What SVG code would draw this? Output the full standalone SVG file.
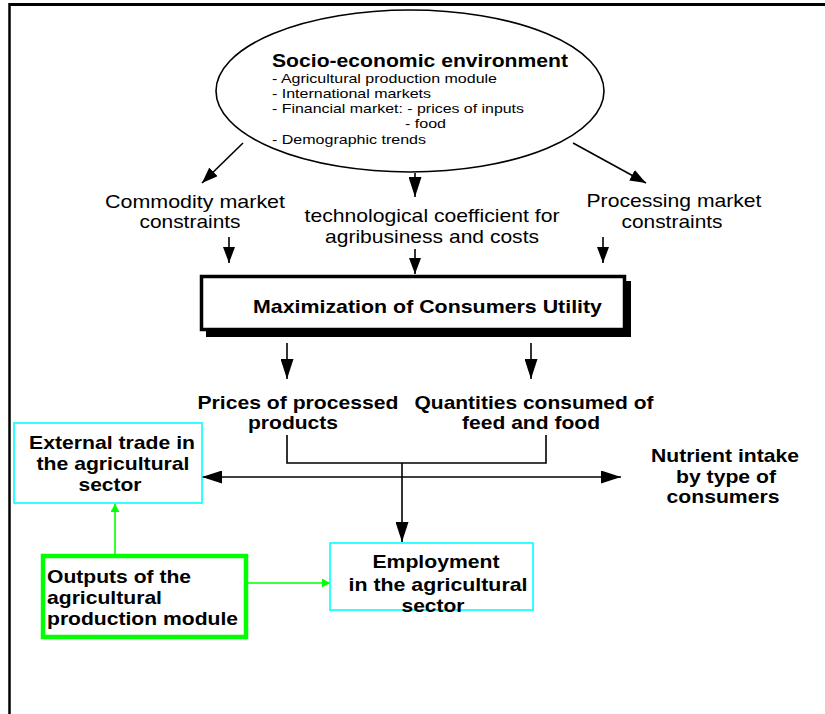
<svg xmlns="http://www.w3.org/2000/svg" width="825" height="714" viewBox="0 0 825 714">
<style>
text{font-family:"Liberation Sans",Arial,Helvetica,sans-serif;fill:#000}
.r{font-size:19px}
.s{font-size:13px}
.b{font-size:19px;font-weight:bold}
.t{font-size:19px;font-weight:bold}
.c{text-anchor:middle}
.k{stroke:#000;stroke-width:1.6;fill:none}
.g{stroke:#00ff00;stroke-width:1.6;fill:none}
.cy{fill:#fff;stroke:#00ffff;stroke-width:1.6}
</style>
<defs>
<marker id="ab" markerUnits="userSpaceOnUse" markerWidth="20" markerHeight="13" refX="20" refY="6.5" orient="auto"><path d="M0,0 L20,6.5 L0,13 z" fill="#000"/></marker>
<marker id="as" markerUnits="userSpaceOnUse" markerWidth="16" markerHeight="12" refX="16" refY="6" orient="auto"><path d="M0,0 L16,6 L0,12 z" fill="#000"/></marker>
<marker id="ag" markerUnits="userSpaceOnUse" markerWidth="8" markerHeight="9" refX="8" refY="4.5" orient="auto"><path d="M0,0 L8,4.5 L0,9 z" fill="#00ff00"/></marker>
</defs>
<rect width="825" height="714" fill="#fff"/>
<g id="frame">
<line x1="9" y1="4.5" x2="825" y2="4.5" stroke="#000" stroke-width="3"/>
<line x1="9.5" y1="3" x2="9.5" y2="714" stroke="#000" stroke-width="2.5"/>
</g>
<g id="connectors">
<line class="k" x1="243" y1="143" x2="202" y2="183" marker-end="url(#as)"/>
<line class="k" x1="573" y1="143" x2="646" y2="183" marker-end="url(#as)"/>
<line class="k" x1="415" y1="173" x2="415" y2="197" marker-end="url(#ab)"/>
<line class="k" x1="229" y1="237" x2="229" y2="263" marker-end="url(#as)"/>
<line class="k" x1="415" y1="249" x2="415" y2="274" marker-end="url(#as)"/>
<line class="k" x1="603" y1="237" x2="603" y2="263" marker-end="url(#as)"/>
<line class="k" x1="287" y1="343" x2="287" y2="379" marker-end="url(#ab)"/>
<line class="k" x1="531" y1="343" x2="531" y2="379" marker-end="url(#ab)"/>
<polyline class="k" points="287,435 287,463 546,463 546,435"/>
<line class="k" x1="402" y1="463" x2="402" y2="542" marker-end="url(#ab)"/>
<line class="k" x1="300" y1="477" x2="202" y2="477" marker-end="url(#ab)"/>
<line class="k" x1="300" y1="477" x2="621" y2="477" marker-end="url(#ab)"/>
<line class="g" x1="115" y1="556" x2="115" y2="504" marker-end="url(#ag)"/>
<line class="g" x1="246" y1="583" x2="330" y2="583" marker-end="url(#ag)"/>
</g>
<g id="socio">
<ellipse cx="410" cy="91" rx="194" ry="81" fill="none" stroke="#000" stroke-width="1.6"/>
<text class="t" x="272" y="67" textLength="296" lengthAdjust="spacingAndGlyphs">Socio-economic environment</text>
<text class="s" x="272" y="83" textLength="225" lengthAdjust="spacingAndGlyphs">- Agricultural production module</text>
<text class="s" x="272" y="98" textLength="159" lengthAdjust="spacingAndGlyphs">- International markets</text>
<text class="s" x="272" y="113" textLength="252" lengthAdjust="spacingAndGlyphs">- Financial market: - prices of inputs</text>
<text class="s" x="405" y="128" textLength="41" lengthAdjust="spacingAndGlyphs">- food</text>
<text class="s" x="272" y="144" textLength="154" lengthAdjust="spacingAndGlyphs">- Demographic trends</text>
</g>
<g id="commodity">
<text class="r c" x="195" y="208" textLength="180" lengthAdjust="spacingAndGlyphs">Commodity market</text>
<text class="r c" x="190" y="228" textLength="101" lengthAdjust="spacingAndGlyphs">constraints</text>
</g>
<g id="techno">
<text class="r c" x="432" y="222" textLength="255" lengthAdjust="spacingAndGlyphs">technological coefficient for</text>
<text class="r c" x="432" y="243" textLength="214" lengthAdjust="spacingAndGlyphs">agribusiness and costs</text>
</g>
<g id="processing">
<text class="r c" x="674" y="207" textLength="175" lengthAdjust="spacingAndGlyphs">Processing market</text>
<text class="r c" x="672" y="228" textLength="101" lengthAdjust="spacingAndGlyphs">constraints</text>
</g>
<g id="maximization">
<rect x="206" y="281" width="425" height="56" fill="#000"/>
<rect x="201.5" y="276.5" width="423" height="53" fill="#fff" stroke="#000" stroke-width="3.5"/>
<text class="b" x="253" y="313" textLength="349" lengthAdjust="spacingAndGlyphs">Maximization of Consumers Utility</text>
</g>
<g id="prices">
<text class="b c" x="298" y="409" textLength="201" lengthAdjust="spacingAndGlyphs">Prices of processed</text>
<text class="b c" x="293" y="429" textLength="90" lengthAdjust="spacingAndGlyphs">products</text>
</g>
<g id="quantities">
<text class="b c" x="534" y="409" textLength="239" lengthAdjust="spacingAndGlyphs">Quantities consumed of</text>
<text class="b c" x="531" y="429" textLength="138" lengthAdjust="spacingAndGlyphs">feed and food</text>
</g>
<g id="external">
<rect class="cy" x="14" y="423" width="188" height="80"/>
<text class="b c" x="112" y="449" textLength="166" lengthAdjust="spacingAndGlyphs">External trade in</text>
<text class="b c" x="113" y="470" textLength="153" lengthAdjust="spacingAndGlyphs">the agricultural</text>
<text class="b c" x="110" y="491" textLength="63" lengthAdjust="spacingAndGlyphs">sector</text>
</g>
<g id="nutrient">
<text class="b c" x="725" y="462" textLength="148" lengthAdjust="spacingAndGlyphs">Nutrient intake</text>
<text class="b c" x="726" y="483" textLength="100" lengthAdjust="spacingAndGlyphs">by type of</text>
<text class="b c" x="723" y="503" textLength="113" lengthAdjust="spacingAndGlyphs">consumers</text>
</g>
<g id="employment">
<rect class="cy" x="330" y="543" width="203" height="67"/>
<text class="b c" x="436" y="568" textLength="127" lengthAdjust="spacingAndGlyphs">Employment</text>
<text class="b c" x="438" y="591" textLength="179" lengthAdjust="spacingAndGlyphs">in the agricultural</text>
<text class="b c" x="433" y="612" textLength="63" lengthAdjust="spacingAndGlyphs">sector</text>
</g>
<g id="outputs">
<rect x="43" y="556" width="203" height="81" fill="#fff" stroke="#00ff00" stroke-width="4.5"/>
<text class="b" x="47" y="583" textLength="144" lengthAdjust="spacingAndGlyphs">Outputs of the</text>
<text class="b" x="47" y="604" textLength="115" lengthAdjust="spacingAndGlyphs">agricultural</text>
<text class="b" x="47" y="625" textLength="191" lengthAdjust="spacingAndGlyphs">production module</text>
</g>
</svg>
